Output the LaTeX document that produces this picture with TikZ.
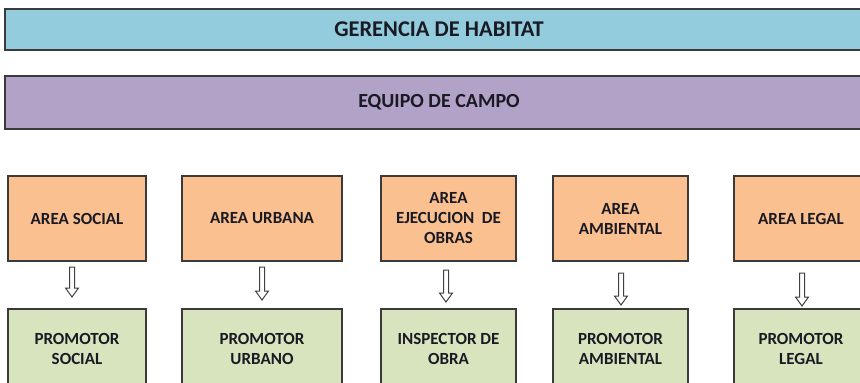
\documentclass[tikz,border=0pt]{standalone}
\usepackage{fontspec}
\setmainfont{Carlito}
\usetikzlibrary{calc}
\definecolor{hblue}{HTML}{93CDDD}
\definecolor{hpurple}{HTML}{B3A2C7}
\definecolor{horange}{HTML}{FAC090}
\definecolor{hgreen}{HTML}{D7E4BD}
\definecolor{hborder}{HTML}{3A3A3A}
\definecolor{htext}{HTML}{1A1A24}
\definecolor{harrow}{HTML}{404040}
\newcommand\hollowarrow[2]{%
  \draw[arrowline] let \p1=(#1), \p2=(#2) in
    (\x1-2.5pt,\y1) -- (\x1+2.5pt,\y1) -- (\x1+2.5pt,\y2+9pt) -- (\x1+6.5pt,\y2+9pt)
    -- (\x1,\y2) -- (\x1-6.5pt,\y2+9pt) -- (\x1-2.5pt,\y2+9pt) -- cycle;}
\begin{document}
\begin{tikzpicture}[x=1pt,y=-1pt,
  boxbase/.style={draw=hborder, line width=1.6pt, inner sep=0pt, align=center,
    text=htext, font=\bfseries\fontsize{17}{20}\selectfont},
  bar/.style={boxbase},
  areabox/.style={boxbase, fill=horange, minimum height=85pt},
  rolebox/.style={boxbase, fill=hgreen, minimum height=80pt},
  arrowline/.style={draw=harrow, fill=white, line width=1pt, line join=miter}]
\useasboundingbox (0,0) rectangle (860,383);
\clip (0,0) rectangle (860,383);

\node[bar, fill=hblue, minimum width=868pt, minimum height=41pt,
  font=\bfseries\fontsize{22.5}{24}\selectfont] (ger) at (439,29.5) {GERENCIA DE HABITAT};
\node[bar, fill=hpurple, minimum width=868pt, minimum height=53pt,
  font=\bfseries\fontsize{20}{24}\selectfont] (eq) at (439,102.5) {EQUIPO DE CAMPO};

\node[areabox, minimum width=138pt] (a1) at (77,218.5) {AREA SOCIAL};
\node[areabox, minimum width=160pt] (a2) at (262,218.5) {AREA URBANA};
\node[areabox, minimum width=135pt] (a3) at (448.5,218.5) {AREA\\EJECUCION\ \ DE\\OBRAS};
\node[areabox, minimum width=135pt] (a4) at (620.5,218.5) {AREA\\AMBIENTAL};
\node[areabox, minimum width=134pt] (a5) at (801,218.5) {AREA LEGAL};

\node[rolebox, minimum width=138pt] (r1) at (77,349) {PROMOTOR\\SOCIAL};
\node[rolebox, minimum width=160pt] (r2) at (262,349) {PROMOTOR\\URBANO};
\node[rolebox, minimum width=135pt] (r3) at (448.5,349) {INSPECTOR DE\\OBRA};
\node[rolebox, minimum width=135pt] (r4) at (620.5,349) {PROMOTOR\\AMBIENTAL};
\node[rolebox, minimum width=134pt] (r5) at (801,349) {PROMOTOR\\LEGAL};

\coordinate (t1) at (72,267);  \coordinate (e1) at (72,297);
\coordinate (t2) at (262,267); \coordinate (e2) at (262,300);
\coordinate (t3) at (446,270); \coordinate (e3) at (446,302);
\coordinate (t4) at (621,273); \coordinate (e4) at (621,305);
\coordinate (t5) at (802,273); \coordinate (e5) at (802,306);
\hollowarrow{t1}{e1}
\hollowarrow{t2}{e2}
\hollowarrow{t3}{e3}
\hollowarrow{t4}{e4}
\hollowarrow{t5}{e5}
\end{tikzpicture}
\end{document}
